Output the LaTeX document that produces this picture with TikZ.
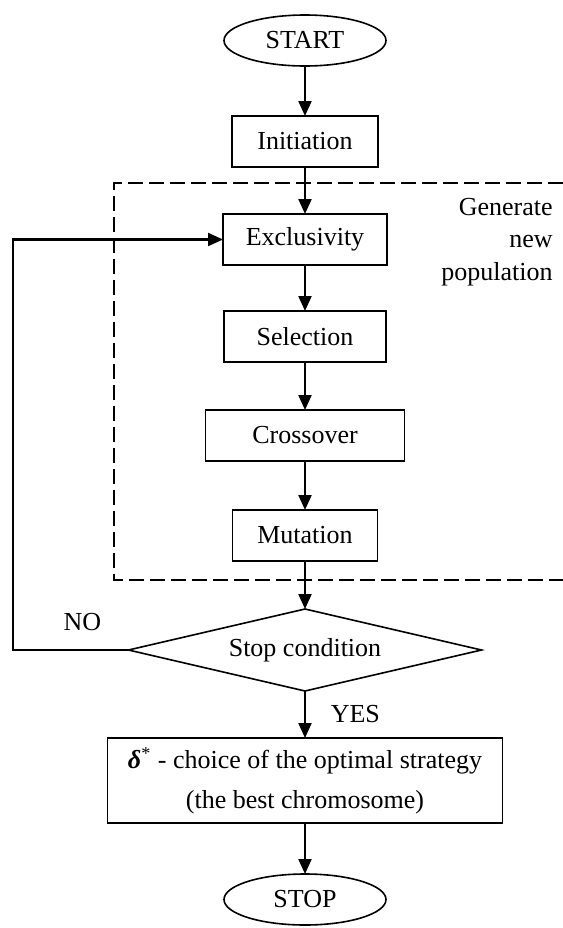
\documentclass[tikz,border=0pt]{standalone}
\usepackage{fontspec}
\setmainfont{Liberation Serif}
\usetikzlibrary{arrows.meta,positioning,shapes.geometric}

\begin{document}
\begin{tikzpicture}[
    x=0.5pt, y=-0.5pt,
    node distance=24pt,
    every node/.style={font=\fontsize{13}{16.25}\selectfont},
    block/.style={rectangle, draw, line width=0.8pt, minimum width=#1,
                  minimum height=25.5pt, align=center, inner sep=0pt,
                  outer sep=0pt},
    term/.style={ellipse, draw, line width=0.8pt, minimum width=81pt,
                 minimum height=25.5pt, inner sep=0pt, outer sep=0pt},
    decision/.style={diamond, draw, line width=0.8pt, aspect=4.3,
                     minimum width=176.5pt, minimum height=41pt, inner sep=0pt,
                     outer sep=0pt},
    flow/.style={-{Triangle[length=7.5pt, width=6.5pt]}, line width=1.1pt},
    region/.style={dash pattern=on 7.5pt off 3pt, line width=1pt},
]
    \useasboundingbox (0,0) rectangle (563,928);

    % Main chain
    \node[term] (start) at (305,40.5) {START};
    \node[block=73pt, below=25pt of start] (init) {Initiation};
    \node[block=82pt, below=23.5pt of init] (excl) {Exclusivity};
    \node[block=81pt, below=23pt of excl] (sel) {Selection};
    \node[block=99.5pt, below=24pt of sel] (cross) {Crossover};
    \node[block=72.5pt, below=24.5pt of cross] (mut) {Mutation};
    \node[decision, below=24pt of mut] (cond) {Stop condition};
    \node[block=197.5pt, minimum height=42.5pt, below=23.5pt of cond,
          font=\fontsize{13}{20}\selectfont] (best)
        {{\bfseries\itshape δ}\textsuperscript{*} - choice of the optimal strategy\\(the best chromosome)};
    \node[term, below=25.5pt of best] (stop) {STOP};

    % Generation loop region
    \draw[region] (563,183) -- (114,183) -- (114,580) -- (563,580);
    \node[align=right, anchor=east, inner sep=0pt] (gen) at (553,242)
        {Generate\\new\\population};

    % Arrows
    \draw[flow] (start) -- (init);
    \draw[flow] (init) -- (excl);
    \draw[flow] (excl) -- (sel);
    \draw[flow] (sel) -- (cross);
    \draw[flow] (cross) -- (mut);
    \draw[flow] (mut) -- (cond);
    \draw[flow] (cond) -- node[right=9pt] {YES} (best);
    \draw[flow] (best) -- (stop);

    % Back loop
    \coordinate (back) at (13,0);
    \draw[flow] (cond.west) -- node[pos=0.4, above=5.5pt] {NO}
        (cond.west -| back) |- (excl.west);
\end{tikzpicture}
\end{document}
